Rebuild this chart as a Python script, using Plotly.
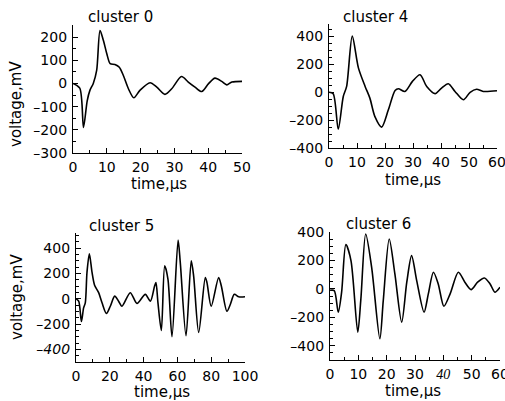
import plotly.graph_objects as go

# ---------------- data ----------------
t_c0 = [0, 2, 3.1, 4.2, 5, 6, 7, 8, 9, 10, 11, 12.4, 13.7, 14.9, 16.4, 18, 19.8, 22.8, 24.8,
        27.2, 29.2, 32.1, 34.1, 36.1, 38.1, 40.1, 42, 44, 45.5, 47, 50]
v_c0 = [0, -20, -190, -75, -30, 0, 56, 228, 185, 128, 85, 82, 70, 34, -23, -62, -30, 3, -16,
        -47, -23, 30, 6, -16, -35, -1, 23, 9, -6, 6, 9]

t_c4 = [0, 1.5, 3.3, 5.1, 6.3, 8.3, 10.5, 12.9, 14.6, 16.4, 18.8, 21.2, 23.6, 24.8, 27.1,
        29.8, 32.5, 34.9, 37.9, 40.2, 42.6, 45, 48, 50.4, 52.7, 55.1, 60]
v_c4 = [0, -10, -265, -30, 42, 403, 175, 42, -42, -175, -250, -126, 13, 25, 6,
        78, 126, 42, -10, 30, 61, 6, -54, 0, 22, 6, 11]

t_c5 = [0, 1.6, 3.2, 4.5, 5.5, 6.5, 7.9, 9.5, 11, 13.4, 15.4, 18, 20.3, 22.9, 25.2, 27.2,
        32.1, 36.1, 41, 44, 46.5, 47.3, 48.5, 50.5, 52.5, 54.4, 56.8, 60.4, 61.7, 65.1,
        68.2, 69.6, 72.6, 76.5, 77.5, 80, 84.4, 86, 89.3, 91.3, 93.7, 96.3, 100]
v_c5 = [0, -19, -180, -72, -32, 208, 355, 208, 107, 48, -32, -117, -59, 21, -19, -59,
        48, -37, 35, -19, 101, 128, -32, -251, 261, 155, -299, 465, 288, -293,
        301, 181, -267, 168, 128, -59, 168, 101, -99, -45, 35, 16, 16]

t_c6 = [0, 1.5, 2.9, 4.1, 5.6, 7.4, 9.8, 10.9, 12.6, 14.7, 17.6, 18.8, 20.9, 22.9, 25.3,
        27.1, 28.8, 30.6, 33.2, 34.7, 36.5, 38.2, 40.2, 42.4, 45.3, 47.6, 49.8, 52.1,
        54.5, 56.5, 58.2, 60]
v_c6 = [-10, -12, -164, -23, 311, 199, -304, -70, 386, 152, -351, -82, 351, 105, -234,
        47, 234, 58, -164, -35, 117, 35, -122, -35, 117, 47, -5, 47,
        77, 35, -23, 12]

titles = ["cluster 0", "cluster 4", "cluster 5", "cluster 6"]

xt_c0 = [0, 10, 20, 30, 40, 50]
xt_c4 = [0, 10, 20, 30, 40, 50, 60]
xt_c5 = [0, 20, 40, 60, 80, 100]
xt_c6 = [0, 10, 20, 30, 40, 50, 60]
xl_c6 = ["0", "10", "20", "30",
         "<i><span style='font-family:Liberation Serif'>40</span></i>", "50", "60"]

yt_c0 = [-300, -200, -100, 0, 100, 200]
yl_c0 = ["–300", "–200", "–100", "0", "100", "200"]
yt_c4 = [-400, -200, 0, 200, 400]
yl_c4 = ["–400", "–200", "0", "200", "400"]
yt_c5 = [-400, -200, 0, 200, 400]
yl_c5 = ["<i>–400</i>", "–200", "0", "200", "400"]
yt_c6 = [-400, -200, 0, 200, 400]
yl_c6 = ["–400", "–200", "0", "200", "400"]

W, H = 505, 401
FONT = "DejaVu Sans"

fig = go.Figure()

panels = [
    dict(t=t_c0, v=v_c0, xd=(73, 242), yd=(25, 153), xr=[0, 50], yr=[-300, 252],
         xt=xt_c0, xl=[str(v) for v in xt_c0], yt=yt_c0, yl=yl_c0, xm=5, ym=50),
    dict(t=t_c4, v=v_c4, xd=(329, 497), yd=(24, 148), xr=[0, 60], yr=[-400, 490],
         xt=xt_c4, xl=[str(v) for v in xt_c4], yt=yt_c4, yl=yl_c4, xm=5, ym=50),
    dict(t=t_c5, v=v_c5, xd=(76, 245), yd=(233, 362), xr=[0, 100], yr=[-500, 520],
         xt=xt_c5, xl=[str(v) for v in xt_c5], yt=yt_c5, yl=yl_c5, xm=10, ym=50),
    dict(t=t_c6, v=v_c6, xd=(330, 500), yd=(232, 360), xr=[0, 60], yr=[-500, 400],
         xt=xt_c6, xl=xl_c6, yt=yt_c6, yl=yl_c6, xm=5, ym=50),
]

axis_common = dict(showline=True, linecolor="black", linewidth=1.3, ticks="inside",
                   ticklen=5, tickwidth=1.2, tickcolor="black", showgrid=False,
                   zeroline=False, tickfont=dict(family=FONT, size=14, color="black"),
                   fixedrange=True, automargin=False, ticklabeloverflow="allow")

for i, p in enumerate(panels):
    n = i + 1
    xa = "x" if n == 1 else f"x{n}"
    ya = "y" if n == 1 else f"y{n}"
    fig.add_trace(go.Scatter(x=p["t"], y=p["v"], mode="lines", xaxis=xa, yaxis=ya,
                             line=dict(color="black", width=1.6, shape="spline",
                                       smoothing=0.8),
                             showlegend=False, hoverinfo="skip"))
    xkey = "xaxis" if n == 1 else f"xaxis{n}"
    ykey = "yaxis" if n == 1 else f"yaxis{n}"
    fig.update_layout({
        xkey: dict(axis_common, domain=[p["xd"][0] / W, p["xd"][1] / W], range=p["xr"],
                   anchor=ya, tickmode="array", tickvals=p["xt"], ticktext=p["xl"],
                   ticklabelstandoff=1,
                   minor=dict(ticks="inside", ticklen=3, tickcolor="black",
                              dtick=p["xm"], tick0=0)),
        ykey: dict(axis_common, domain=[1 - p["yd"][1] / H, 1 - p["yd"][0] / H],
                   range=p["yr"], anchor=xa, tickmode="array", tickvals=p["yt"],
                   ticktext=p["yl"], ticklabelstandoff=2,
                   minor=dict(ticks="inside", ticklen=3, tickcolor="black",
                              dtick=p["ym"], tick0=0)),
    })

annots = [
    ("cluster 0", 120, 17, 0), ("cluster 4", 375, 17, 0),
    ("cluster 5", 121, 226, 0), ("cluster 6", 378, 224, 0),
    ("time,µs", 159, 184, 0), ("time,µs", 413, 180, 0),
    ("time,µs", 162, 392, 0), ("time,µs", 413, 391, 0),
    ("voltage,mV", 16, 104, -90), ("voltage,mV", 17, 297, -90),
]
for txt, px, py, ang in annots:
    fig.add_annotation(text=txt, x=px / W, y=1 - py / H, xref="paper", yref="paper",
                       showarrow=False, textangle=ang, xanchor="center", yanchor="middle",
                       font=dict(family=FONT, size=15, color="black"))

fig.update_layout(width=W, height=H, margin=dict(l=0, r=0, t=0, b=0, autoexpand=False),
                  paper_bgcolor="white", plot_bgcolor="white")

fig.write_html("out.html", config={"displayModeBar": False},
               post_script="document.body.style.margin='0';document.body.style.overflow='hidden';")
